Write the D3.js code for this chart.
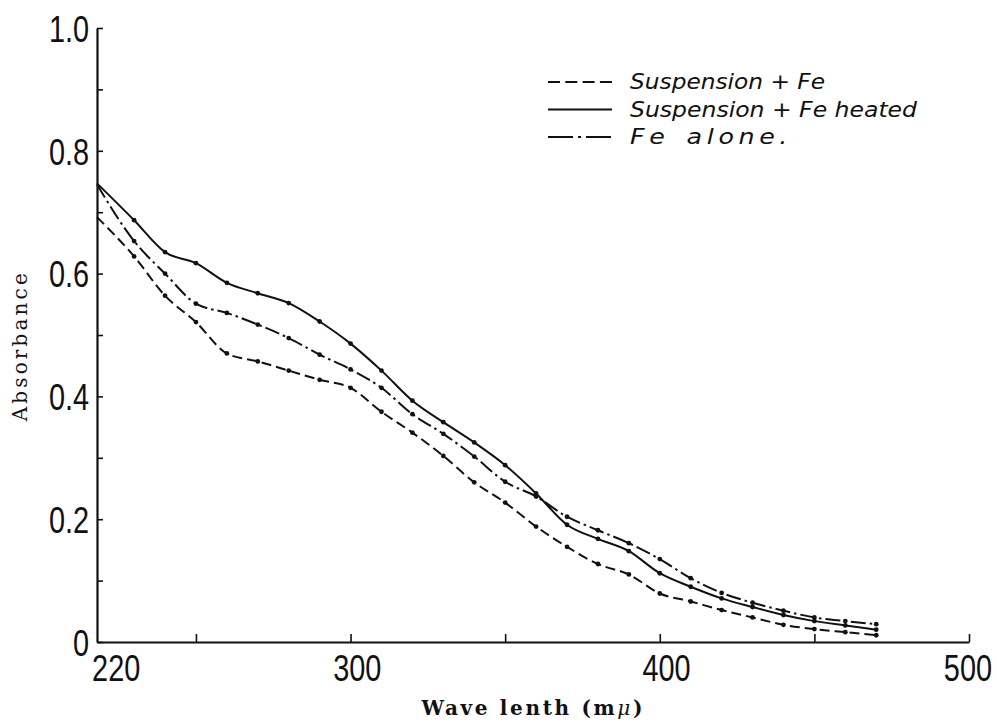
<!DOCTYPE html>
<html><head><meta charset="utf-8">
<script src="https://cdn.jsdelivr.net/npm/d3@7"></script>
<style>
body{margin:0;background:#fff}
.num{font-family:"Liberation Sans","Arimo",sans-serif;font-size:37px;fill:#111}
.ttl{font-family:"DejaVu Serif","Liberation Serif",serif;font-size:20px;fill:#111}
.leg{font-family:"DejaVu Sans","Liberation Sans",sans-serif;font-style:italic;font-size:22px;fill:#111}
</style>
</head><body>
<svg id="c" width="997" height="726"></svg>
<script>
// ---- data ----
const wavelengths = [218,230,240,250,260,270,280,290,300,310,320,330,340,350,360,370,380,390,400,410,420,430,440,450,460,470];
const suspensionFe = [0.692,0.628,0.564,0.521,0.470,0.457,0.442,0.427,0.414,0.375,0.341,0.303,0.260,0.227,0.188,0.155,0.127,0.110,0.079,0.066,0.052,0.040,0.028,0.021,0.016,0.011];
const suspensionFeHeated = [0.747,0.687,0.635,0.617,0.585,0.568,0.552,0.522,0.486,0.442,0.393,0.358,0.325,0.288,0.242,0.191,0.168,0.148,0.112,0.090,0.071,0.057,0.044,0.034,0.027,0.020];
const feAlone = [0.745,0.653,0.600,0.551,0.536,0.517,0.495,0.468,0.444,0.414,0.371,0.339,0.302,0.261,0.237,0.204,0.182,0.161,0.135,0.104,0.080,0.064,0.051,0.040,0.034,0.029];
const seriesNames = ["Suspension + Fe","Suspension + Fe heated","Fe alone."];
const xTickMarks = [250,300,350,400,450,500];
const xTickLabels = [220,300,400,500];
const yTickMarks = [0,0.1,0.2,0.3,0.4,0.5,0.6,0.7,0.8,0.9,1.0];
const yTickLabels = [0,0.2,0.4,0.6,0.8,1.0];
const xTitle = "Wave lenth (m";
const xTitleUnit = "μ";
const yTitle = "Absorbance";

// ---- drawing ----
const svg = d3.select("#c");
const x = d3.scaleLinear().domain([218,500]).range([97,969]);
const y = d3.scaleLinear().domain([0,1]).range([642,28]);
const ink = "#111";
const narrow = 0.78;

// x axis: tick marks (pointing inward)
const gx = svg.append("g").attr("transform",`translate(0,${y(0)})`)
  .call(d3.axisBottom(x).tickValues(xTickMarks).tickSize(-8).tickSizeOuter(0).tickFormat(""));
gx.select(".domain").attr("stroke",ink).attr("stroke-width",2.2);
gx.selectAll(".tick line").attr("stroke",ink).attr("stroke-width",1.6);

// x labels
const gxl = svg.append("g").attr("transform",`translate(0,${y(0)})`)
  .call(d3.axisBottom(x).tickValues(xTickLabels).tickSize(0).tickPadding(13).tickFormat(d3.format("d")));
gxl.select(".domain").remove();
gxl.selectAll("text").attr("class","num").attr("font-size",null).attr("font-family",null)
  .attr("dx",d => d===220 ? 16 : (d===500 ? -2 : 8))
  .attr("transform",`scale(${narrow},1)`);

// y axis: tick marks (pointing inward)
const gy = svg.append("g").attr("transform",`translate(${x(218)},0)`)
  .call(d3.axisLeft(y).tickValues(yTickMarks).tickSize(-6).tickSizeOuter(0).tickFormat(""));
gy.select(".domain").attr("stroke",ink).attr("stroke-width",2.2);
gy.selectAll(".tick line").attr("stroke",ink).attr("stroke-width",1.6);

// y labels
const gyl = svg.append("g").attr("transform",`translate(${x(218)},0)`)
  .call(d3.axisLeft(y).tickValues(yTickLabels).tickSize(0).tickPadding(8).tickFormat(d => d===0 ? "0" : d3.format(".1f")(d)));
gyl.select(".domain").remove();
gyl.selectAll("text").attr("class","num").attr("font-size",null).attr("font-family",null)
  .attr("x",-8/narrow).attr("dy","0.36em")
  .attr("transform",`scale(${narrow},1)`);

// titles
const xt = svg.append("text").attr("class","ttl").attr("font-weight","bold")
  .attr("x",532).attr("y",715).attr("text-anchor","middle")
  .attr("textLength",221).attr("lengthAdjust","spacing");
xt.append("tspan").text(xTitle);
xt.append("tspan").attr("font-style","italic").attr("font-weight","normal").text(xTitleUnit);
xt.append("tspan").text(")");

svg.append("text").attr("class","ttl")
  .attr("transform",`translate(27,${y(0.48)}) rotate(-90)`).attr("text-anchor","middle")
  .attr("textLength",148).attr("lengthAdjust","spacing")
  .text(yTitle);

// series
const series = [
  {name: seriesNames[0], values: suspensionFe, dash: "10,5"},
  {name: seriesNames[1], values: suspensionFeHeated, dash: null},
  {name: seriesNames[2], values: feAlone, dash: "15,4,2.5,4"}
];
const line = d3.line().x(d => x(d[0])).y(d => y(d[1])).curve(d3.curveMonotoneX);

series.forEach(s => {
  const pts = wavelengths.map((w,i) => [w, s.values[i]]);
  svg.append("path").datum(pts)
    .attr("d",line).attr("fill","none").attr("stroke",ink).attr("stroke-width",2)
    .attr("stroke-dasharray",s.dash);
  svg.append("g").selectAll("circle").data(pts.slice(1)).join("circle")
    .attr("cx",d => x(d[0])).attr("cy",d => y(d[1])).attr("r",2.4).attr("fill",ink);
});

// legend
const legDash = ["12,5.3", null, "25,5,3,5"];
const legLen = [195,287,162];
const legLetter = [0,0,4];
const legWord = [0,0,4];
const leg = svg.append("g").attr("transform","translate(548,82)");
series.forEach((s,i) => {
  const row = leg.append("g").attr("transform",`translate(0,${i*27.5})`);
  row.append("line").attr("x1",0).attr("x2",64).attr("y1",0).attr("y2",0)
    .attr("stroke",ink).attr("stroke-width",2).attr("stroke-dasharray",legDash[i]);
  row.append("text").attr("class","leg").attr("x",82).attr("y",7)
    .style("letter-spacing",legLetter[i]+"px").style("word-spacing",legWord[i]+"px")
    .attr("textLength",legLen[i]).attr("lengthAdjust","spacingAndGlyphs").text(s.name);
});
</script>
</body></html>
